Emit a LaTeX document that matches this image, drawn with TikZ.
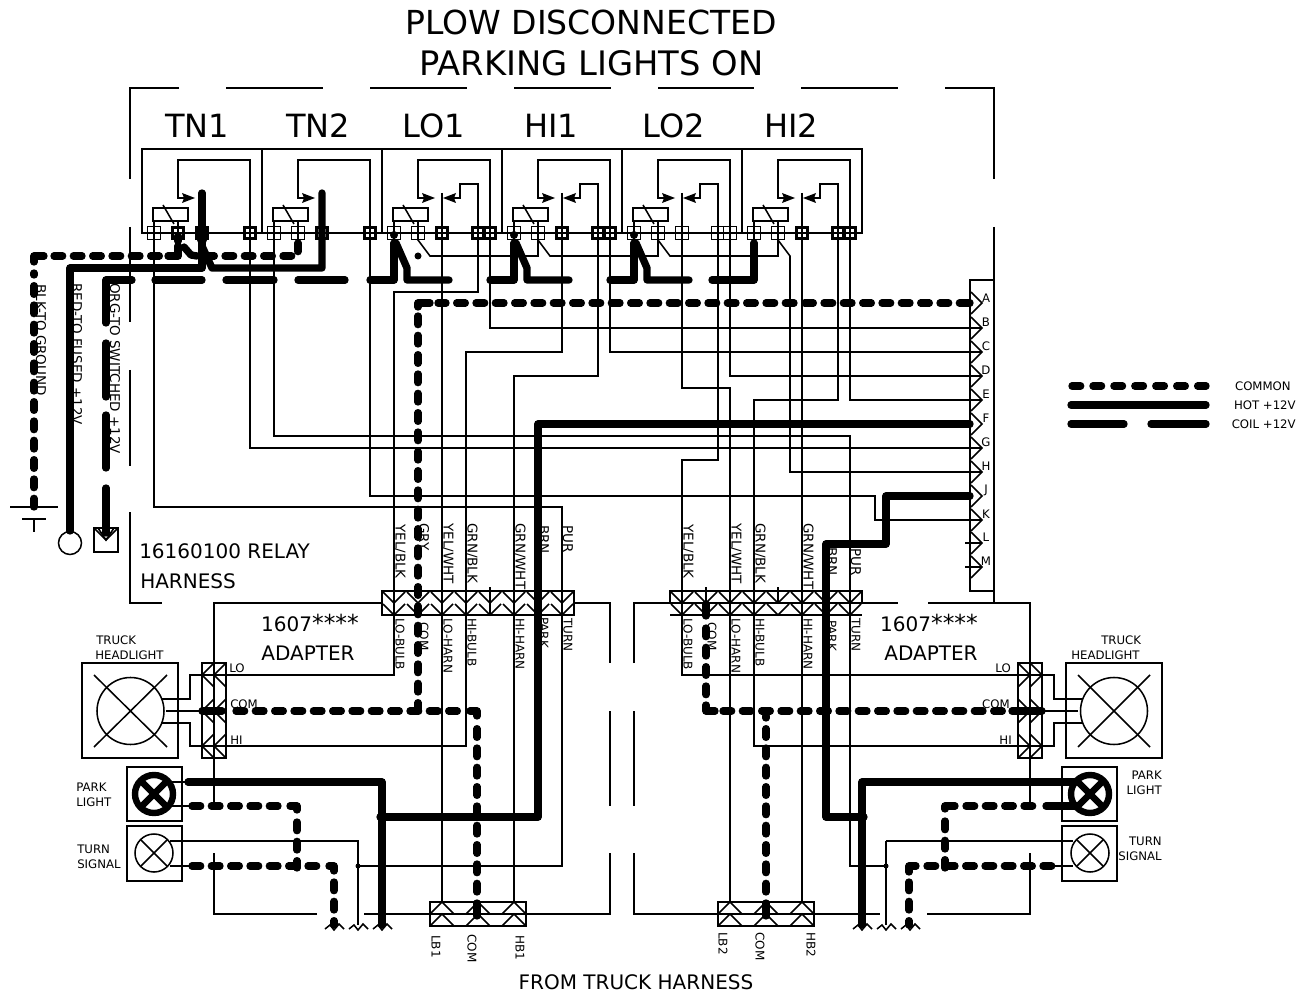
\documentclass[tikz,border=0pt]{standalone}
\usepackage{fontspec}
\usetikzlibrary{calc}
\setmainfont{DejaVu Sans}
\newcounter{lc}
\newcommand{\lb}[3]{\stepcounter{lc}\node[#1] (lab\arabic{lc}) at (#2) {#3};}
\tikzset{
 wire/.style={line width=1.15pt},
 hotw/.style={line width=5.5pt,line cap=round,line join=round},
 comw/.style={hotw,dash pattern=on 6.5pt off 8pt},
 t33/.style={inner sep=0pt,font=\fontsize{24.8pt}{30pt}\selectfont},
 t33b/.style={inner sep=0pt,font=\fontsize{25.3pt}{30pt}\selectfont},
 t31/.style={inner sep=0pt,font=\fontsize{24pt}{28pt}\selectfont},
 t20/.style={inner sep=0pt,font=\fontsize{15pt}{18pt}\selectfont},
 t13/.style={inner sep=0pt,font=\fontsize{10.1pt}{12pt}\selectfont},
 t115/.style={inner sep=0pt,font=\fontsize{8.8pt}{10pt}\selectfont},
 r13/.style={t13,rotate=-90},
 r115/.style={inner sep=0pt,font=\fontsize{9pt}{10pt}\selectfont,rotate=-90},
}
\newcommand{\stars}{{\fontsize{17.5pt}{18pt}\selectfont ****}}
\newcommand{\relaybase}[1]{%
 \draw[wire] (#1-1,208) rectangle (#1+34,221);
 \draw[wire] (#1,221)--(#1,233) (#1+24,221)--(#1+24,233);
 \draw[wire] (#1+9,205)--(#1+20,224);
 \draw[wire] (#1+31,198)--(#1+24,198)--(#1+24,160)--(#1+96,160)--(#1+96,233);
 \fill (#1+41,198)--(#1+28,193)--(#1+30,198)--(#1+28,203)--cycle;
}
\newcommand{\relayhl}[1]{%
 \relaybase{#1}
 \draw[wire] (#1+48,193)--(#1+48,233);
 \draw[wire] (#1+58,198)--(#1+66,198)--(#1+66,184)--(#1+84,184)--(#1+84,233);
 \fill (#1+49,198)--(#1+62,193)--(#1+60,198)--(#1+62,203)--cycle;
}
\newcommand{\term}[2]{% x, dark?
 \ifnum#2=1
 \draw[line width=2.2pt,fill=white] (#1-5.5,227.5) rectangle (#1+5.5,238.5);
 \draw[line width=1.2pt] (#1,227)--(#1,239) (#1-6,233)--(#1+6,233);
 \else
 \draw[line width=1pt,fill=white] (#1-6.5,226.5) rectangle (#1+6.5,239.5);
 \draw[line width=1pt] (#1,226.5)--(#1,239.5) (#1-6.5,233)--(#1+6.5,233);
 \fi}
\begin{document}
\begin{tikzpicture}[x=0.75pt,y=-0.75pt]
\useasboundingbox (0,0) rectangle (1302,994);
\fill[white] (0,0) rectangle (1302,994);

% named terminals and pins
\foreach \x in {154,178,202,250,274,298,322,370,394,418,442,478,490,514,538,562,598,610,634,658,682,718,730,754,778,802,838,850}
 \coordinate (t\x) at (\x,233);
\foreach \n/\y in {A/303,B/328,C/352,D/376,E/400,F/424,G/448,H/472,J/496,K/520,L/543,M/567}
 \coordinate (p\n) at (982,\y);
\foreach \x in {442,478,514,730,766,802}
 \coordinate (b\x) at (\x,902);

% frame (dashed outline)
\draw[wire] (179,88)--(130,88)--(130,179);
\foreach \a/\b in {226/323,370/467,514/611,658/754,801/898} \draw[wire] (\a,88)--(\b,88);
\draw[wire] (945,88)--(994,88)--(994,179);
\draw[wire] (130,227)--(130,322) (130,370)--(130,466) (130,512)--(130,603)--(162,603);
\draw[wire] (994,227)--(994,603);

% relay bank
\draw[wire] (142,233)--(142,149)--(862,149)--(862,233)--cycle;
\foreach \x in {262,382,502,622,742} \draw[wire] (\x,149)--(\x,233);
\relaybase{154}
\relaybase{274}
\relayhl{394}
\relayhl{514}
\relayhl{634}
\relayhl{754}

% adapters outline
\draw[wire] (214,805)--(214,603)--(382,603);
\draw[wire] (574,603)--(610,603)--(610,663) (610,711)--(610,806) (610,853)--(610,914)--(364,914);
\draw[wire] (317,914)--(214,914)--(214,853);
\draw[wire] (634,663)--(634,603)--(898,603) (928,603)--(1030,603)--(1030,805);
\draw[wire] (634,711)--(634,806) (634,853)--(634,914)--(880,914) (927,914)--(1030,914)--(1030,853);

% thin wiring
\draw[wire] (t154)--(154,507)--(562,507)--(562,866)--(358,866);
\draw[wire] (t274)--(274,436)--(850,436)--(850,866)--(886,866);
\draw[wire] (t250)--(250,448)--(pG);
\draw[wire] (t370)--(370,496)--(875,496)--(875,520)--(pK);
\draw[wire] (t442)--(b442);
\draw[wire] (t478)--(478,292)--(394,292)--(394,675)--(190,675)--(190,699)--(162,699);
\draw[wire] (t490)--(490,328)--(pB);
\draw[wire] (t610)--(610,352)--(pC);
\draw[wire] (t730)--(730,376)--(pD);
\draw[wire] (t850)--(850,400)--(pE);
\draw[wire] (t562)--(562,352)--(466,352)--(466,746)--(190,746)--(190,723)--(162,723);
\draw[wire] (t598)--(598,376)--(514,376)--(b514);
\draw[wire] (t682)--(682,388)--(730,388)--(b730);
\draw[wire] (t718)--(718,460)--(682,460)--(682,675)--(1054,675)--(1054,699)--(1082,699);
\draw[wire] (t802)--(b802);
\draw[wire] (t838)--(838,400)--(754,400)--(754,746)--(1054,746)--(1054,723)--(1082,723);
\draw[wire] (t418)--(418,240)--(430,256)--(538,256)--(t538);
\draw[wire] (538,240)--(550,256)--(658,256)--(t658);
\draw[wire] (658,240)--(670,256)--(778,256)--(t778);
\draw[wire] (778,240)--(790,256)--(790,472)--(pH);
\draw[wire] (965,543)--(pL) (965,567)--(pM);
\draw[wire] (490,587)--(490,615) (778,587)--(778,603) (706,587)--(706,603);

% terminals
\foreach \x in {154,274,298,394,418,514,538,634,658,682,718,730,754,778} {\term{\x}{0}}
\foreach \x in {178,202,250,322,370,442,478,490,562,598,610,802,838,850} {\term{\x}{1}}

% right connector
\draw[wire] (970,280) rectangle (994,591);
\foreach \n in {A,B,C,D,E,F,G,H,J,K,L,M}
 \draw[wire] ($(p\n)+(-11,-11)$)--(p\n)--($(p\n)+(-11,11)$);

% centre connectors
\draw[wire] (382,591) rectangle (574,615);
\foreach \x in {394,418,442,466,490,514,538,562} {
 \draw[wire] (\x-11,592)--(\x,603)--(\x+11,592);
 \draw[wire] (\x-11,604)--(\x,615)--(\x+11,604);
}
\draw[wire] (670,603)--(670,591)--(862,591)--(862,603) (670,615)--(862,615);
\foreach \x in {682,706,730,754,778,802,826,850} {
 \draw[wire] (\x-11,592)--(\x,603)--(\x+11,592);
 \draw[wire] (\x-11,604)--(\x,615)--(\x+11,604);
}

% bottom connectors
\foreach \x/\l/\c/\r in {430/442/478/514,718/730/766/802} {
 \draw[wire] (\x,902) rectangle (\x+96,926);
 \foreach \k in {\l,\c,\r} {
  \draw[wire] (\k-12,914)--(\k,902)--(\k+12,914);
  \draw[wire] (\k-12,926)--(\k,914)--(\k+12,926);
 }
}
\draw[wire] (430,914)--(526,914) (718,914)--(814,914);

% headlights
\draw[wire] (82,663) rectangle (178,758);
\draw[wire] (130.5,711) circle (33.5);
\draw[wire] (94,675)--(167,747) (167,675)--(94,747);
\draw[wire] (166,711)--(214,711);
\draw[wire] (202,663) rectangle (226,758);
\draw[wire] (214,663)--(214,758);
\foreach \y in {675,711,746} {
 \draw[wire] (214,\y-12)--(202,\y)--(214,\y+12);
 \draw[wire] (226,\y-12)--(214,\y)--(226,\y+12);
}
\draw[wire] (1066,663) rectangle (1162,758);
\draw[wire] (1114,711) circle (33.5);
\draw[wire] (1078,675)--(1150,747) (1150,675)--(1078,747);
\draw[wire] (1078,711)--(1030,711);
\draw[wire] (1018,663) rectangle (1042,758);
\draw[wire] (1030,663)--(1030,758);
\foreach \y in {675,711,746} {
 \draw[wire] (1018,\y-12)--(1030,\y)--(1018,\y+12);
 \draw[wire] (1030,\y-12)--(1042,\y)--(1030,\y+12);
}

% park and turn lamps
\foreach \x in {127,1062} {
 \draw[wire] (\x,767) rectangle (\x+55,821);
 \draw[wire] (\x,826) rectangle (\x+55,881);
}
\foreach \x in {154,1090} {
 \draw[line width=4.8pt] (\x,794) circle (19);
 \draw[line width=4.8pt] (\x-14,780)--(\x+14,808) (\x+14,780)--(\x-14,808);
 \draw[wire] (\x,853) circle (19);
 \draw[wire] (\x-13,840)--(\x+13,866) (\x+13,840)--(\x-13,866);
}
\draw[wire] (172,782)--(190,782) (172,806)--(190,806) (170,841)--(358,841)--(358,925) (170,866)--(190,866);
\draw[wire] (886,841)--(1073,841) (886,841)--(886,925) (1055,866)--(1073,866);
\fill (358,866) circle (2.5) (886,866) circle (2.5);

% wavy ends
\foreach \x in {334,358,382,862,886,910}
 \draw[wire] (\x-9,929)--(\x-4,925)--(\x,930)--(\x+5,924)--(\x+10,929);

% ground, battery, switched
\draw[wire] (10,507)--(58,507) (22,519)--(46,519) (34,519)--(34,532);
\draw[wire] (70,543) circle (11.5);
\draw[wire] (94,528) rectangle (118,552);
\draw[wire] (94,528)--(106,540)--(118,528);

% COMMON (dashed)
\draw[comw] (34,507)--(34,273);
\draw[hotw] (34,262)--(34,256)--(44,256);
\draw[comw] (54,256)--(162,256);
\draw[hotw] (168,256)--(178,256)--(178,246);
\draw[hotw,line width=6pt] (178,236)--(178,241);
\draw[hotw] (184,247)--(191,255)--(197,256);
\draw[comw] (298,243)--(298,256)--(204,256);
\fill (418,256) circle (3.5);
\draw[hotw] (418,307)--(418,303)--(430,303);
\draw[comw] (968,303)--(438,303);
\draw[hotw] (963,303)--(970,303);
\draw[comw] (418,316)--(418,710);
\draw[hotw] (202,711)--(222,711);
\draw[comw] (236,711)--(462,711);
\draw[hotw] (470,711)--(477,711)--(477,716);
\draw[comw] (477,892)--(477,725);
\draw[hotw] (477,903)--(477,916);
\draw[hotw] (706,604)--(706,616);
\draw[comw] (706,628)--(706,698);
\draw[hotw] (706,705)--(706,711)--(715,711);
\draw[comw] (723,711)--(1005,711);
\draw[hotw] (1012,711)--(1042,711);
\draw[comw] (766,892)--(766,716);
\draw[hotw] (766,903)--(766,916);
% lamps
\draw[comw] (192,806)--(280,806);
\draw[hotw] (290,806)--(297,806)--(297,810);
\draw[comw] (297,822)--(297,868);
\draw[comw] (192,866)--(322,866);
\draw[hotw] (329,866)--(334,866)--(334,871);
\draw[comw] (334,882)--(334,925);
\draw[hotw] (945,809)--(945,806)--(955,806);
\draw[comw] (966,806)--(1040,806);
\draw[hotw] (1046,806)--(1078,806);
\draw[comw] (945,821)--(945,868);
\draw[hotw] (909,872)--(909,866)--(916,866);
\draw[comw] (927,866)--(1057,866);
\draw[comw] (909,882)--(909,925);

% HOT (solid)
\draw[hotw] (70,531)--(70,268)--(202,268)--(202,193);
\draw[hotw] (202,246)--(212,268)--(322,268)--(322,193);
\fill (202,240) circle (5);
\draw[hotw] (970,424)--(538,424)--(538,817)--(380,817);
\draw[hotw] (382,925)--(382,782)--(188,782);
\draw[hotw] (970,496)--(886,496)--(886,544)--(826,544)--(826,817)--(864,817);
\draw[hotw] (862,925)--(862,782)--(1075,782);

% COIL (long dashes)
\draw[hotw] (106,323)--(106,280)--(132,280);
\draw[hotw] (106,343)--(106,397) (106,415)--(106,468) (106,488)--(106,533);
\draw[wire] (98,528)--(106,540)--(114,528);
\foreach \a/\b in {155/202,226/274,298/345} \draw[hotw] (\a,280)--(\b,280);
\foreach \p in {394,514,634} {
 \draw[hotw] (\p-24,280)--(\p,280)--(\p,243);
 \fill (\p,235) circle (4);
 \draw[hotw] (\p+2,243)--(\p+13,268)--(\p+13,280)--(\p+55,280);
}
\draw[hotw] (712,280)--(754,280)--(754,243);

% title and labels
\lb{t33}{591,22}{PLOW DISCONNECTED}
\lb{t33b}{591.5,63}{PARKING LIGHTS ON}
\lb{t31}{197,126}{TN1}
\lb{t31}{318,126}{TN2}
\lb{t31}{434,126}{LO1}
\lb{t31}{551,126}{HI1}
\lb{t31}{674,126}{LO2}
\lb{t31}{791,126}{HI2}
\lb{t20,anchor=west}{139,551}{16160100 RELAY}
\lb{t20,anchor=west}{140,581}{HARNESS}
\lb{t20}{310,623}{1607\stars}
\lb{t20}{308,653}{ADAPTER}
\lb{t20}{929,623}{1607\stars}
\lb{t20}{931,653}{ADAPTER}
\lb{t20}{636,982}{FROM TRUCK HARNESS}
% side labels
\lb{r13,anchor=west}{41,284}{BLK-TO GROUND}
\lb{r13,anchor=west}{77,283}{RED-TO FUSED +12V}
\lb{r13,anchor=west}{115,283}{ORG-TO SWITCHED +12V}
% colour labels
\lb{r13,anchor=west}{400,524}{YEL/BLK}
\lb{r13,anchor=west}{424,523}{GRY}
\lb{r13,anchor=west}{448,523}{YEL/WHT}
\lb{r13,anchor=west}{472,523}{GRN/BLK}
\lb{r13,anchor=west}{520,523}{GRN/WHT}
\lb{r13,anchor=west}{544,525}{BRN}
\lb{r13,anchor=west}{568,525}{PUR}
\lb{r13,anchor=west}{688,524}{YEL/BLK}
\lb{r13,anchor=west}{736,523}{YEL/WHT}
\lb{r13,anchor=west}{760,523}{GRN/BLK}
\lb{r13,anchor=west}{808,523}{GRN/WHT}
\lb{r13,anchor=west}{832,547}{BRN}
\lb{r13,anchor=west}{856,548}{PUR}
\lb{r115,anchor=west}{400,618}{LO-BULB}
\lb{r115,anchor=west}{424,622}{COM}
\lb{r115,anchor=west}{448,618}{LO-HARN}
\lb{r115,anchor=west}{472,618}{HI-BULB}
\lb{r115,anchor=west}{520,618}{HI-HARN}
\lb{r115,anchor=west}{544,617}{PARK}
\lb{r115,anchor=west}{568,618}{TURN}
\lb{r115,anchor=west}{688,618}{LO-BULB}
\lb{r115,anchor=west}{712,622}{COM}
\lb{r115,anchor=west}{736,618}{LO-HARN}
\lb{r115,anchor=west}{760,618}{HI-BULB}
\lb{r115,anchor=west}{808,618}{HI-HARN}
\lb{r115,anchor=west}{832,620}{PARK}
\lb{r115,anchor=west}{856,618}{TURN}
\lb{r115,anchor=west}{436,935}{LB1}
\lb{r115,anchor=west}{472,934}{COM}
\lb{r115,anchor=west}{520,935}{HB1}
\lb{r115,anchor=west}{723,932}{LB2}
\lb{r115,anchor=west}{760,932}{COM}
\lb{r115,anchor=west}{811,932}{HB2}
% connector letters
\foreach \n/\y in {A/298,B/322,C/346,D/370,E/394,F/418,G/442,H/466,J/490,K/514,L/537,M/561}
 \node[t115] (let\n) at (986,\y) {\n};
\lb{t115,anchor=west}{229,668}{LO}
\lb{t115,anchor=west}{230,704}{COM}
\lb{t115,anchor=west}{230,740}{HI}
\lb{t115,anchor=east}{1011,668}{LO}
\lb{t115,anchor=east}{1010,704}{COM}
\lb{t115,anchor=east}{1012,740}{HI}
% lamps text
\lb{t115,anchor=west}{96,640}{TRUCK}
\lb{t115,anchor=west}{95,655}{HEADLIGHT}
\lb{t115,anchor=west}{1101,640}{TRUCK}
\lb{t115,anchor=west}{1071,655}{HEADLIGHT}
\lb{t115,anchor=west}{76,787}{PARK}
\lb{t115,anchor=west}{76,802}{LIGHT}
\lb{t115,anchor=west}{77,849}{TURN}
\lb{t115,anchor=west}{77,864}{SIGNAL}
\lb{t115,anchor=east}{1162,775}{PARK}
\lb{t115,anchor=east}{1162,790}{LIGHT}
\lb{t115,anchor=east}{1162,841}{TURN}
\lb{t115,anchor=east}{1162,856}{SIGNAL}
% legend
\draw[hotw,dash pattern=on 6.5pt off 9.2pt] (1072,386)--(1206,386);
\draw[hotw] (1071,405)--(1206,405);
\draw[hotw] (1071,424)--(1124,424) (1151,424)--(1206,424);
\lb{t115,anchor=east}{1291,386}{COMMON}
\lb{t115,anchor=east}{1296,405}{HOT +12V}
\lb{t115,anchor=east}{1296,424}{COIL +12V}
\end{tikzpicture}
\end{document}
